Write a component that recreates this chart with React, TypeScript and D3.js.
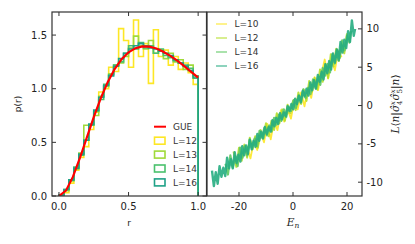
import React from "react";
import * as d3 from "d3";

// ---------- Left panel data: level spacing ratio histograms ----------
const nBins = 28;
const histL12 = [0.0, 0.03, 0.12, 0.24, 0.36, 0.46, 0.62, 0.78, 0.97, 1.0, 1.2, 1.16, 1.56, 1.45, 1.2, 1.64, 1.3, 1.42, 1.05, 1.55, 1.3, 1.36, 1.22, 1.3, 1.18, 1.24, 1.15, 1.04];
const histL13 = [0.0, 0.05, 0.14, 0.25, 0.4, 0.66, 0.66, 0.75, 0.93, 1.02, 1.14, 1.22, 1.24, 1.3, 1.38, 1.49, 1.4, 1.37, 1.45, 1.33, 1.36, 1.28, 1.33, 1.25, 1.27, 1.18, 1.22, 1.1];
const histL14 = [0.01, 0.06, 0.15, 0.27, 0.38, 0.52, 0.66, 0.79, 0.9, 1.04, 1.13, 1.22, 1.25, 1.33, 1.4, 1.37, 1.43, 1.38, 1.4, 1.33, 1.37, 1.31, 1.29, 1.26, 1.24, 1.22, 1.19, 1.12];
const histL16 = [0.01, 0.06, 0.15, 0.26, 0.39, 0.52, 0.67, 0.8, 0.92, 1.03, 1.12, 1.21, 1.28, 1.33, 1.37, 1.4, 1.42, 1.4, 1.38, 1.37, 1.35, 1.33, 1.31, 1.27, 1.24, 1.21, 1.17, 1.1];
const gueR = [0, 0.05, 0.1, 0.15, 0.2, 0.25, 0.3, 0.35, 0.4, 0.45, 0.5, 0.55, 0.6, 0.65, 0.7, 0.75, 0.8, 0.85, 0.9, 0.95, 1.0];
const gueP = [0, 0.05, 0.178, 0.352, 0.544, 0.735, 0.91, 1.061, 1.183, 1.275, 1.339, 1.378, 1.394, 1.392, 1.375, 1.345, 1.306, 1.261, 1.21, 1.157, 1.103];

const histSeries = [
  { label: "L=12", values: histL12, color: "#fde725" },
  { label: "L=13", values: histL13, color: "#a0da39" },
  { label: "L=14", values: histL14, color: "#4ac16d" },
  { label: "L=16", values: histL16, color: "#1fa187" },
];

const leftXTicks = [0, 0.5, 1.0];
const leftYTicks = [0, 0.5, 1.0, 1.5];

// ---------- Right panel data: L<n|s4 s5|n> vs E_n ----------
const eL10 = [-17, -15.75, -14.5, -13.25, -12, -10.75, -9.5, -8.25, -7, -5.75, -4.5, -3.25, -2, -0.75, 0.5, 1.75, 3, 4.25, 5.5, 6.75, 8, 9.25, 10.5, 11.75, 13, 14.25, 15.5, 16.75, 18];
const vL10 = [-5.3, -6.9, -4.6, -5.8, -3.5, -4.8, -2.4, -4.4, -2.0, -3.2, -0.6, -2.1, -0.5, -1.7, 0.8, -0.5, 1.7, -0.1, 2.3, 1.0, 3.7, 2.0, 4.1, 6.0, 3.5, 6.0, 4.6, 7.1, 6.3];

const eL12 = [-22, -21, -20, -19, -18, -17, -16, -15, -14, -13, -12, -11, -10, -9, -8, -7, -6, -5, -4, -3, -2, -1, 0, 1, 2, 3, 4, 5, 6, 7, 8, 9, 10, 11, 12, 13, 14, 15, 16, 17, 18, 19, 20];
const vL12 = [-6.0, -8.0, -5.5, -7.2, -5.1, -6.8, -4.2, -5.7, -4.0, -5.5, -3.2, -4.2, -2.3, -4.0, -2.0, -3.2, -1.0, -2.3, -0.5, -2.0, 0.1, -1.0, 0.6, -0.6, 1.7, 0.2, 2.1, 0.6, 3.2, 1.8, 3.6, 2.1, 4.7, 3.1, 5.4, 3.6, 6.7, 5.1, 7.4, 5.8, 8.0, 6.8, 9.4];

const eL14 = [-25.0, -24.1, -23.2, -22.3, -21.4, -20.5, -19.6, -18.7, -17.8, -16.9, -16.0, -15.1, -14.2, -13.3, -12.4, -11.5, -10.6, -9.7, -8.8, -7.9, -7.0, -6.1, -5.2, -4.3, -3.4, -2.5, -1.6, -0.7, 0.2, 1.1, 2.0, 2.9, 3.8, 4.7, 5.6, 6.5, 7.4, 8.3, 9.2, 10.1, 11.0, 11.9, 12.8, 13.7, 14.6, 15.5, 16.4, 17.3, 18.2, 19.1, 20.0, 20.9, 21.5];
const vL14 = [-7.6, -9.0, -6.5, -8.1, -6.6, -7.9, -5.5, -6.8, -5.3, -6.5, -4.4, -5.7, -4.3, -5.3, -3.3, -4.2, -2.9, -3.9, -2.6, -3.4, -1.6, -2.5, -1.2, -2.0, -0.5, -1.5, -0.2, -0.7, 0.7, -0.3, 1.2, 0.6, 2.1, 1.0, 2.3, 1.5, 3.4, 2.3, 3.7, 2.7, 4.9, 3.9, 5.4, 4.3, 6.7, 5.5, 7.3, 6.2, 8.5, 7.2, 9.1, 8.2, 9.7];

const eL16 = [-30.0, -29.3, -28.6, -27.9, -27.2, -26.5, -25.8, -25.1, -24.4, -23.7, -23.0, -22.3, -21.6, -20.9, -20.2, -19.5, -18.8, -18.1, -17.4, -16.7, -16.0, -15.3, -14.6, -13.9, -13.2, -12.5, -11.8, -11.1, -10.4, -9.7, -9.0, -8.3, -7.6, -6.9, -6.2, -5.5, -4.8, -4.1, -3.4, -2.7, -2.0, -1.3, -0.6, 0.1, 0.8, 1.5, 2.2, 2.9, 3.6, 4.3, 5.0, 5.7, 6.4, 7.1, 7.8, 8.5, 9.2, 9.9, 10.6, 11.3, 12.0, 12.7, 13.4, 14.1, 14.8, 15.5, 16.2, 16.9, 17.6, 18.3, 19.0, 19.7, 20.4, 21.1, 21.8, 22.5, 23.0];
const vL16 = [-8.5, -10.5, -8.7, -10.2, -7.9, -9.3, -8.1, -9.2, -6.8, -8.2, -7.0, -8.2, -6.1, -7.5, -6.4, -7.3, -5.3, -6.5, -5.2, -6.3, -4.5, -5.7, -4.6, -5.4, -3.7, -4.6, -3.4, -4.3, -2.8, -3.7, -2.8, -3.4, -1.9, -2.7, -1.6, -2.4, -1.0, -1.8, -0.9, -1.4, -0.1, -0.7, 0.2, -0.5, 0.9, 0.2, 1.3, 0.4, 1.9, 1.2, 2.2, 1.3, 3.0, 2.0, 3.3, 2.2, 4.0, 3.1, 4.4, 3.4, 5.4, 4.2, 5.8, 4.7, 6.8, 5.6, 7.3, 5.9, 8.3, 6.9, 8.6, 7.5, 9.7, 8.3, 11.1, 9.1, 10.0];

const corrSeries = [
  { label: "L=10", e: eL10, v: vL10, color: "#fde725", w: 1.8 },
  { label: "L=12", e: eL12, v: vL12, color: "#b5de2b", w: 2.0 },
  { label: "L=14", e: eL14, v: vL14, color: "#5ec962", w: 2.2 },
  { label: "L=16", e: eL16, v: vL16, color: "#26ad81", w: 2.4 },
];

const rightXTicks = [-20, 0, 20];
const rightYTicks = [-10, -5, 0, 5, 10];

// ---------- layout ----------
const W = 415, H = 244;
const TOP = 12, BOTTOM = 196;
const L0 = 52, L1 = 206.5;
const R0 = 207, R1 = 362;
const AX = "#333";
const TXT = "#222";
const FONT = "DejaVu Sans, sans-serif";

export default function App() {
  const xr = d3.scaleLinear().domain([-0.05, 1.06]).range([L0, L1]);
  const yp = d3.scaleLinear().domain([0, 1.715]).range([BOTTOM, TOP]);
  const xe = d3.scaleLinear().domain([-31.85, 25.55]).range([R0, R1]);
  const yc = d3.scaleLinear().domain([-11.8, 12.2]).range([BOTTOM, TOP]);

  const histPath = (vals: number[]) => {
    const pts: [number, number][] = [[0, 0]];
    vals.forEach((v, k) => {
      pts.push([k / nBins, v]);
      pts.push([(k + 1) / nBins, v]);
    });
    pts.push([1, 0]);
    return d3.line<[number, number]>().x((d) => xr(d[0])).y((d) => yp(d[1]))(pts) || "";
  };
  const gueLine = d3.line<number>().x((_, i) => xr(gueR[i])).y((d) => yp(d))(gueP) || "";
  const corrLine = (e: number[], v: number[]) =>
    d3.line<number>().x((_, i) => xe(e[i])).y((d) => yc(d))(v) || "";

  const tl = 4;
  return (
    <svg width={W} height={H} style={{ position: "absolute", left: 0, top: 0, background: "#fff" }} fontFamily={FONT}>
      <defs>
        <clipPath id="clipL"><rect x={L0} y={TOP} width={L1 - L0} height={BOTTOM - TOP} /></clipPath>
        <clipPath id="clipR"><rect x={R0} y={TOP} width={R1 - R0} height={BOTTOM - TOP} /></clipPath>
      </defs>

      {/* ---- left panel ---- */}
      <g clipPath="url(#clipL)">
        {histSeries.map((s) => (
          <path key={s.label} d={histPath(s.values)} fill="none" stroke={s.color} strokeWidth={1.6} />
        ))}
        <path d={gueLine} fill="none" stroke="#ff0000" strokeWidth={2.2} />
      </g>
      <rect x={L0} y={TOP} width={L1 - L0} height={BOTTOM - TOP} fill="none" stroke={AX} strokeWidth={1.2} />
      {leftXTicks.map((t) => (
        <g key={"lx" + t}>
          <line x1={xr(t)} x2={xr(t)} y1={BOTTOM} y2={BOTTOM - tl} stroke={AX} />
          <line x1={xr(t)} x2={xr(t)} y1={TOP} y2={TOP + tl} stroke={AX} />
          <text x={xr(t)} y={210} fontSize={10} textAnchor="middle" fill={TXT}>{t.toFixed(1)}</text>
        </g>
      ))}
      {leftYTicks.map((t) => (
        <g key={"ly" + t}>
          <line x1={L0} x2={L0 + tl} y1={yp(t)} y2={yp(t)} stroke={AX} />
          <line x1={L1} x2={L1 - tl} y1={yp(t)} y2={yp(t)} stroke={AX} />
          <text x={47} y={yp(t) + 3.6} fontSize={10} textAnchor="end" fill={TXT}>{t.toFixed(1)}</text>
        </g>
      ))}
      <text x={129} y={226} fontSize={9} textAnchor="middle" fill={TXT}>r</text>
      <text transform={`translate(21,${104}) rotate(-90)`} fontSize={9} textAnchor="middle" fill={TXT}>p(r)</text>

      {/* left legend */}
      <line x1={154} x2={166} y1={126.7} y2={126.7} stroke="#ff0000" strokeWidth={2} />
      <text x={173} y={130} fontSize={9} fill="#333">GUE</text>
      {histSeries.map((s, i) => (
        <g key={"lg" + s.label}>
          <rect x={154.5} y={137.2 + i * 13.9} width={10.5} height={7} fill="none" stroke={s.color} strokeWidth={1.6} />
          <text x={173} y={144 + i * 13.9} fontSize={9} fill="#333">{s.label}</text>
        </g>
      ))}

      {/* ---- right panel ---- */}
      <g clipPath="url(#clipR)">
        {corrSeries.map((s) => (
          <path key={s.label} d={corrLine(s.e, s.v)} fill="none" stroke={s.color} strokeWidth={s.w} strokeOpacity={0.9} strokeLinejoin="round" />
        ))}
      </g>
      <rect x={R0} y={TOP} width={R1 - R0} height={BOTTOM - TOP} fill="none" stroke={AX} strokeWidth={1.2} />
      {rightXTicks.map((t) => (
        <g key={"rx" + t}>
          <line x1={xe(t)} x2={xe(t)} y1={BOTTOM} y2={BOTTOM - tl} stroke={AX} />
          <line x1={xe(t)} x2={xe(t)} y1={TOP} y2={TOP + tl} stroke={AX} />
          <text x={xe(t)} y={210} fontSize={10} textAnchor="middle" fill={TXT}>{String(t)}</text>
        </g>
      ))}
      {rightYTicks.map((t) => (
        <g key={"ry" + t}>
          <line x1={R1} x2={R1 - tl} y1={yc(t)} y2={yc(t)} stroke={AX} />
          <text x={366.5} y={yc(t) + 3.6} fontSize={10} textAnchor="start" fill={TXT}>{String(t)}</text>
        </g>
      ))}
      <text x={xe(0)} y={226} fontSize={10.5} textAnchor="middle" fill={TXT} fontFamily="DejaVu Serif, serif" fontStyle="italic">
        E<tspan fontSize={7.5} dy={2}>n</tspan>
      </text>
      <text transform={`translate(399,${104}) rotate(-90)`} fontSize={10.5} textAnchor="middle" fill={TXT} fontFamily="DejaVu Serif, serif">
        <tspan fontStyle="italic">L</tspan>⟨<tspan fontStyle="italic">n</tspan>|<tspan fontStyle="italic">σ̂</tspan>
        <tspan fontSize={7} fontStyle="italic" dy={-3.8}>x</tspan>
        <tspan fontSize={7} dx={-4} dy={6.5}>4</tspan>
        <tspan fontStyle="italic" dy={-2.7}>σ̂</tspan>
        <tspan fontSize={7} fontStyle="italic" dy={-3.8}>x</tspan>
        <tspan fontSize={7} dx={-4} dy={6.5}>5</tspan>
        <tspan dy={-2.7}>|</tspan><tspan fontStyle="italic">n</tspan>⟩
      </text>

      {/* right legend */}
      {corrSeries.map((s, i) => (
        <g key={"rg" + s.label}>
          <line x1={216} x2={227} y1={24 + i * 14} y2={24 + i * 14} stroke={s.color} strokeWidth={1.5} strokeOpacity={0.7} />
          <text x={234.5} y={27.3 + i * 14} fontSize={9} fill="#333">{s.label}</text>
        </g>
      ))}
    </svg>
  );
}
